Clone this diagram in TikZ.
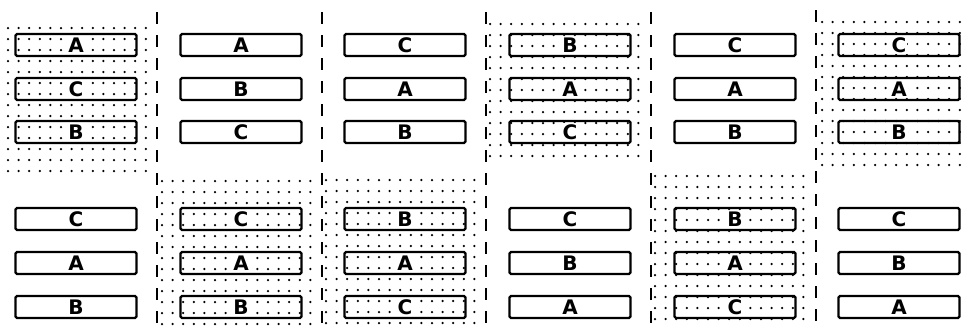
\documentclass[tikz,border=0pt]{standalone}
\usepackage{fontspec}
\setmainfont{DejaVu Sans}
\usepackage{tikz}
\usetikzlibrary{positioning}

% letter with a clear patch round it
\newcommand{\barlbl}[1]{\setlength{\fboxsep}{1pt}\colorbox{white}{#1}}

% dotted screen over a cell
\newcommand{\stipple}[4]{%
  \pgfmathsetmacro\sxnext{#1+10.6}%
  \pgfmathsetmacro\synext{#2+11}%
  \foreach \sx in {#1,\sxnext,...,#3}{%
    \foreach \sy in {#2,\synext,...,#4}{%
      \fill (\sx,\sy) circle (1.25);
    }
  }%
}

\begin{document}
\begin{tikzpicture}[
        x=1pt, y=-1pt,
        bar/.style={rectangle, draw, line width=2.2pt, rounded corners=1.5pt,
          minimum width=121pt, minimum height=22pt, inner sep=0pt,
          font=\fontsize{20}{20}\selectfont\bfseries},
        divider/.style={line width=1.8pt, dash pattern=on 12pt off 11pt}
    ]
        \useasboundingbox (0,0) rectangle (962,325);

        % Dotted cells
        \stipple{8}{28}{154}{174}
        \stipple{490}{24}{648}{166}
        \stipple{822}{22}{960}{165}
        \stipple{162}{181}{320}{325}
        \stipple{326}{180}{484}{325}
        \stipple{655}{176}{814}{325}

        % Dividers
        \coordinate (d1t) at (157,12);  \coordinate (d1b) at (157,325);
        \coordinate (d2t) at (322,12);  \coordinate (d2b) at (322,325);
        \coordinate (d3t) at (486,12);  \coordinate (d3b) at (486,325);
        \coordinate (d4t) at (651,12);  \coordinate (d4b) at (651,325);
        \coordinate (d5t) at (816,10);  \coordinate (d5b) at (816,325);
        \foreach \d in {1,...,5}
            \draw[divider] (d\d t) -- (d\d b);

        % Upper row
        \foreach \c/\x/\p/\q/\r in {1/76/A/C/B, 2/241/A/B/C, 3/405/C/A/B,
                                    4/570/B/A/C, 5/735/C/A/B, 6/899/C/A/B} {
            \node[bar] (u\c a) at (\x,45)  {\barlbl{\p}};
            \node[bar] (u\c b) at (\x,89)  {\barlbl{\q}};
            \node[bar] (u\c c) at (\x,132) {\barlbl{\r}};
        }

        % Lower row
        \foreach \c/\x/\p/\q/\r in {1/76/C/A/B, 2/241/C/A/B, 3/405/B/A/C,
                                    4/570/C/B/A, 5/735/B/A/C, 6/899/C/B/A} {
            \node[bar] (l\c a) at (\x,219) {\barlbl{\p}};
            \node[bar] (l\c b) at (\x,263) {\barlbl{\q}};
            \node[bar] (l\c c) at (\x,307) {\barlbl{\r}};
        }

    \end{tikzpicture}
\end{document}
